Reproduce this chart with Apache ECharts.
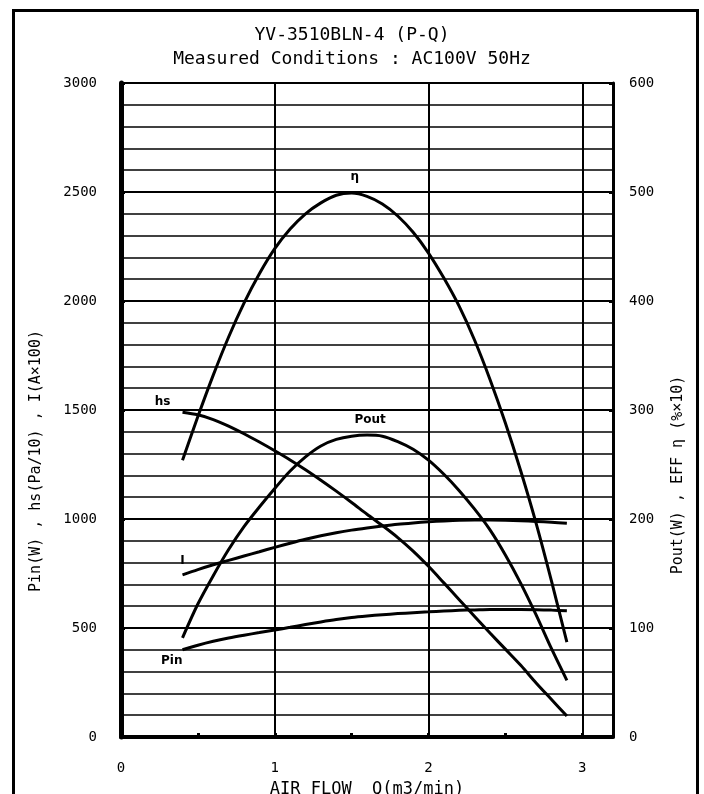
<!DOCTYPE html>
<html>
<head>
<meta charset="utf-8">
<title>YV-3510BLN-4 (P-Q)</title>
<script src="https://cdn.jsdelivr.net/npm/echarts@6/dist/echarts.min.js"></script>
<style>
    html, body { margin: 0; padding: 0; background: #fff; }
    #chart { width: 704px; height: 794px; }
</style>
</head>
<body>
<div id="chart"></div>
<script>
// 风量 Q (m3/min)
var flow = [0.4, 0.5, 0.6, 0.7, 0.8, 0.9, 1.0, 1.1, 1.2, 1.3, 1.4, 1.5, 1.6,
            1.7, 1.8, 1.9, 2.0, 2.1, 2.2, 2.3, 2.4, 2.5, 2.6, 2.7, 2.8, 2.9];
// 左轴: hs(Pa/10), I(A×100), Pin(W)
var hs = [1490, 1478, 1456, 1426, 1391, 1353, 1313, 1271, 1226, 1178, 1128, 1076, 1022,
          970, 915, 853, 783, 707, 630, 553, 477, 403, 329, 248, 172, 96];
var current = [744, 768, 790, 810, 830, 850, 870, 889, 907, 923, 937, 949, 959,
               968, 976, 982, 987, 991, 994, 995, 995, 994, 992, 989, 985, 980];
var pin = [400, 421, 439, 454, 467, 479, 491, 503, 516, 528, 539, 548, 555,
           561, 566, 570, 574, 578, 581, 583, 585, 585, 585, 584, 582, 579];
// 右轴: Pout(W), EFF η(%×10)
var pout = [91, 122, 148, 172, 193, 211, 228, 244, 257, 267, 273, 276, 277,
            276, 271, 264, 254, 241, 226, 209, 190, 167, 141, 112, 81, 52];
var eff = [254, 294, 332, 367, 398, 425, 448, 466, 480, 490, 497, 499, 496,
           489, 478, 463, 444, 421, 395, 364, 328, 288, 244, 196, 143, 87];

// 曲线旁边的名字 (数据坐标)
var tagNames = ['hs', 'I', 'Pin', 'Pout', 'η'];
var tagQ = [0.27, 0.40, 0.33, 1.62, 1.52];
var tagV = [1536, 807, 348, 291, 514];

var FONT = '"DejaVu Sans Mono", monospace';

function pairs(values) {
    return flow.map(function(q, i) {
        return [q, values[i]];
    });
}

function curve(name, values, axisIndex, tagIndex) {
    return {
        name: name,
        type: 'line',
        yAxisIndex: axisIndex,
        data: pairs(values),
        smooth: 0.3,
        showSymbol: false,
        silent: true,
        lineStyle: { color: '#000', width: 3 },
        markPoint: {
            symbol: 'circle',
            symbolSize: 0,
            silent: true,
            label: {
                show: true,
                position: 'inside',
                formatter: tagNames[tagIndex],
                color: '#000',
                fontFamily: '"DejaVu Sans", sans-serif',
                fontWeight: 'bold',
                fontSize: 12
            },
            data: [{ coord: [tagQ[tagIndex], tagV[tagIndex]] }]
        }
    };
}

// 数字不要千分位
function plain(v) {
    return String(v);
}

var chart = echarts.init(document.getElementById('chart'));

var option = {
    animation: false,
    backgroundColor: '#fff',
    title: [{
        text: 'YV-3510BLN-4 (P-Q)',
        left: 'center',
        top: 26,
        padding: 0,
        textStyle: { fontFamily: FONT, fontSize: 18, fontWeight: 'normal', color: '#000' }
    }, {
        text: 'Measured Conditions : AC100V 50Hz',
        left: 'center',
        top: 50,
        padding: 0,
        textStyle: { fontFamily: FONT, fontSize: 18, fontWeight: 'normal', color: '#000' }
    }],
    grid: { left: 121, top: 83, right: 91, bottom: 57, containLabel: false, outerBoundsMode: 'none' },
    xAxis: {
        type: 'value',
        min: 0,
        max: 3.2,
        interval: 1,
        name: 'AIR FLOW  Q(m3/min)',
        nameLocation: 'middle',
        nameGap: 44,
        nameTextStyle: { fontFamily: FONT, fontSize: 17, color: '#000' },
        axisLine: { show: true, lineStyle: { color: '#000', width: 4 } },
        axisTick: { show: true, inside: true, length: 4, lineStyle: { color: '#000', width: 3 } },
        minorTick: { show: true, splitNumber: 2, length: 4, lineStyle: { color: '#000', width: 3 } },
        axisLabel: {
            margin: 24,
            fontFamily: FONT,
            fontSize: 14,
            color: '#000',
            formatter: function(v) {
                return Number.isInteger(v) ? String(v) : '';
            }
        },
        splitLine: { show: true, lineStyle: { color: '#000', width: 2 } }
    },
    yAxis: [{
        type: 'value',
        position: 'left',
        min: 0,
        max: 3000,
        interval: 500,
        name: 'Pin(W) , hs(Pa/10) , I(A×100)',
        nameLocation: 'middle',
        nameRotate: 90,
        nameGap: 77,
        nameTextStyle: { fontFamily: FONT, fontSize: 15, color: '#000', padding: [0, 102, 0, 0] },
        axisLine: { show: true, lineStyle: { color: '#000', width: 5 } },
        axisTick: { show: true, inside: true, length: 4, lineStyle: { color: '#000', width: 3 } },
        axisLabel: { margin: 24, fontFamily: FONT, fontSize: 14, color: '#000', formatter: plain },
        splitLine: { show: true, lineStyle: { color: '#000', width: 2 } },
        minorTick: { show: false, splitNumber: 5 },
        minorSplitLine: { show: true, lineStyle: { color: '#000', width: 1.6 } }
    }, {
        type: 'value',
        position: 'right',
        min: 0,
        max: 600,
        interval: 100,
        name: 'Pout(W) , EFF η (%×10)',
        nameLocation: 'middle',
        nameRotate: 90,
        nameGap: 58,
        nameTextStyle: { fontFamily: FONT, fontSize: 15, color: '#000', padding: [0, 130, 0, 0] },
        axisLine: { show: true, lineStyle: { color: '#000', width: 3 } },
        axisTick: { show: true, inside: true, length: 4, lineStyle: { color: '#000', width: 3 } },
        axisLabel: { margin: 16, fontFamily: FONT, fontSize: 14, color: '#000', formatter: plain },
        splitLine: { show: false }
    }],
    graphic: [{
        type: 'rect',
        silent: true,
        shape: { x: 13.5, y: 10.5, width: 684, height: 800 },
        style: { fill: 'none', stroke: '#000', lineWidth: 3 }
    }],
    series: [
        curve('hs', hs, 0, 0),
        curve('I', current, 0, 1),
        curve('Pin', pin, 0, 2),
        curve('Pout', pout, 1, 3),
        curve('η', eff, 1, 4)
    ]
};

chart.setOption(option);
</script>
</body>
</html>
